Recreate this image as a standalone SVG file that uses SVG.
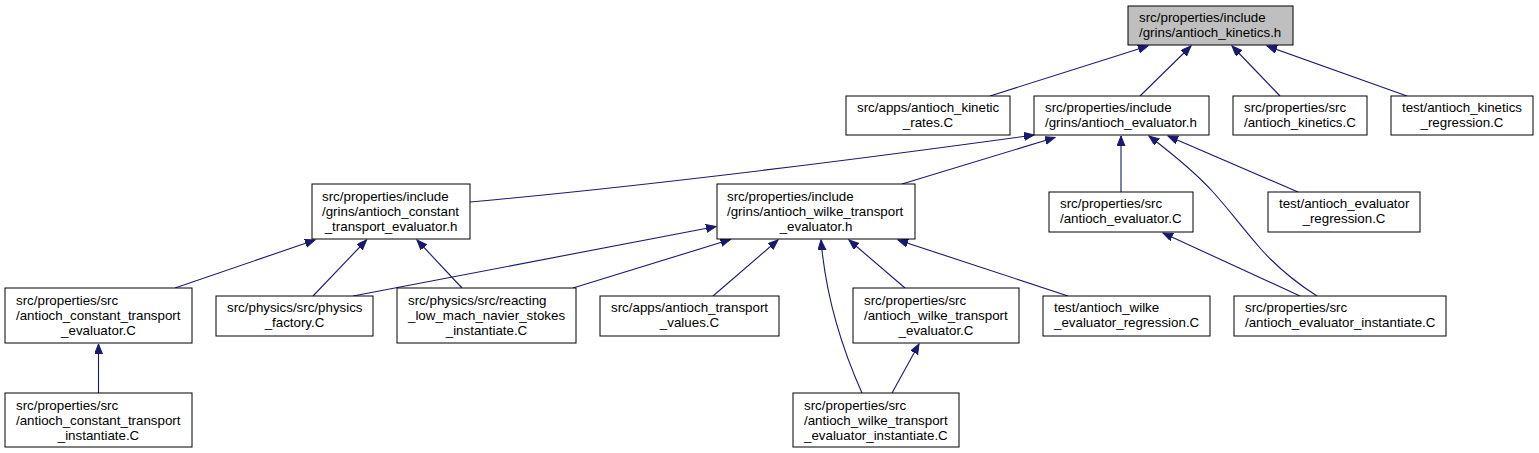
<svg xmlns="http://www.w3.org/2000/svg" width="1539" height="453" viewBox="0 0 1539 453">
<defs>
<style>
.n rect{fill:#fff;stroke:#000;stroke-width:1}
.n.root rect{fill:#bfbfbf}
.n text{font-family:"Liberation Sans",Arial,Helvetica,sans-serif;font-size:13.33px;fill:#000}
.n text.c{text-anchor:middle}
.e path{fill:none;stroke:#191970;stroke-width:1.1;marker-end:url(#ah)}
</style>
<marker id="ah" markerUnits="userSpaceOnUse" markerWidth="12" markerHeight="10" refX="10" refY="4" orient="auto">
<path d="M0,0 L10,4 L0,8 z" fill="#191970" stroke="#191970" stroke-width="1"/>
</marker>
</defs>
<rect width="1539" height="453" fill="#fff"/>
<g id="edges" class="e">
<path d="M990,96 L1148,46"/>
<path d="M1140,96 L1191,46"/>
<path d="M1280,96 L1232,46"/>
<path d="M1407,96 L1267,46"/>
<path d="M470,202 Q700,181 1034,135"/>
<path d="M902,184 L1055,137.5"/>
<path d="M1121,192 L1121,136"/>
<path d="M1298,192 L1168,136"/>
<path d="M1317,296 C1295,282 1275,265 1260,248 C1240,225 1226,206 1213,192 C1195,172 1170,152 1149,136"/>
<path d="M175,288 L315,240"/>
<path d="M313,296 L366.5,240"/>
<path d="M462,288 L417,240"/>
<path d="M353,296 L716,226.5"/>
<path d="M573,288 L730.5,239.5"/>
<path d="M713,296 L778,240"/>
<path d="M862,393 C845,355 826,300 821,240"/>
<path d="M905,288 L849,240"/>
<path d="M1068,296 L898,240"/>
<path d="M1300,296 L1163,233"/>
<path d="M98.5,393 L98.5,344"/>
<path d="M892,393 L919,344"/>
</g>
<g id="n_root" class="n root">
<rect x="1128" y="6" width="165" height="39"/>
<text x="1139" y="22">src/properties/include</text>
<text x="1139" y="37">/grins/antioch_kinetics.h</text>
</g>
<g id="n_kinetic_rates" class="n">
<rect x="846" y="96" width="164" height="39"/>
<text x="857" y="112">src/apps/antioch_kinetic</text>
<text class="c" x="928" y="127">_rates.C</text>
</g>
<g id="n_evaluator_h" class="n">
<rect x="1034" y="96" width="175" height="39"/>
<text x="1045" y="112">src/properties/include</text>
<text x="1045" y="127">/grins/antioch_evaluator.h</text>
</g>
<g id="n_kinetics_C" class="n">
<rect x="1233" y="96" width="134" height="39"/>
<text x="1244" y="112">src/properties/src</text>
<text x="1244" y="127">/antioch_kinetics.C</text>
</g>
<g id="n_kinetics_regression" class="n">
<rect x="1391" y="96" width="142" height="39"/>
<text x="1402" y="112">test/antioch_kinetics</text>
<text class="c" x="1462" y="127">_regression.C</text>
</g>
<g id="n_constant_h" class="n">
<rect x="312" y="184" width="158" height="55"/>
<text x="322" y="201">src/properties/include</text>
<text x="322" y="216">/grins/antioch_constant</text>
<text class="c" x="391" y="231">_transport_evaluator.h</text>
</g>
<g id="n_wilke_h" class="n">
<rect x="717" y="184" width="198" height="55"/>
<text x="727" y="201">src/properties/include</text>
<text x="727" y="216">/grins/antioch_wilke_transport</text>
<text class="c" x="816" y="231">_evaluator.h</text>
</g>
<g id="n_evaluator_C" class="n">
<rect x="1049" y="192" width="144" height="40"/>
<text x="1060" y="208">src/properties/src</text>
<text x="1060" y="223">/antioch_evaluator.C</text>
</g>
<g id="n_evaluator_regression" class="n">
<rect x="1268" y="192" width="152" height="40"/>
<text x="1279" y="208">test/antioch_evaluator</text>
<text class="c" x="1344" y="223">_regression.C</text>
</g>
<g id="n_constant_C" class="n">
<rect x="5" y="288" width="187" height="55"/>
<text x="16" y="305">src/properties/src</text>
<text x="16" y="320">/antioch_constant_transport</text>
<text class="c" x="98.5" y="335">_evaluator.C</text>
</g>
<g id="n_physics_factory" class="n">
<rect x="216" y="296" width="157" height="40"/>
<text x="227" y="312">src/physics/src/physics</text>
<text class="c" x="294.5" y="327">_factory.C</text>
</g>
<g id="n_reacting" class="n">
<rect x="397" y="288" width="179" height="55"/>
<text x="408" y="305">src/physics/src/reacting</text>
<text x="408" y="320">_low_mach_navier_stokes</text>
<text class="c" x="486.5" y="335">_instantiate.C</text>
</g>
<g id="n_transport_values" class="n">
<rect x="600" y="296" width="179" height="40"/>
<text x="611" y="312">src/apps/antioch_transport</text>
<text class="c" x="689.5" y="327">_values.C</text>
</g>
<g id="n_wilke_C" class="n">
<rect x="853" y="288" width="166" height="55"/>
<text x="864" y="305">src/properties/src</text>
<text x="864" y="320">/antioch_wilke_transport</text>
<text class="c" x="936" y="335">_evaluator.C</text>
</g>
<g id="n_wilke_regression" class="n">
<rect x="1043" y="296" width="167" height="40"/>
<text x="1054" y="312">test/antioch_wilke</text>
<text x="1054" y="327">_evaluator_regression.C</text>
</g>
<g id="n_evaluator_instantiate" class="n">
<rect x="1234" y="296" width="212" height="40"/>
<text x="1245" y="312">src/properties/src</text>
<text x="1245" y="327">/antioch_evaluator_instantiate.C</text>
</g>
<g id="n_constant_instantiate" class="n">
<rect x="5" y="393" width="187" height="54"/>
<text x="16" y="410">src/properties/src</text>
<text x="16" y="425">/antioch_constant_transport</text>
<text class="c" x="98.5" y="440">_instantiate.C</text>
</g>
<g id="n_wilke_instantiate" class="n">
<rect x="793" y="393" width="166" height="54"/>
<text x="804" y="410">src/properties/src</text>
<text x="804" y="425">/antioch_wilke_transport</text>
<text x="804" y="440">_evaluator_instantiate.C</text>
</g>
</svg>
